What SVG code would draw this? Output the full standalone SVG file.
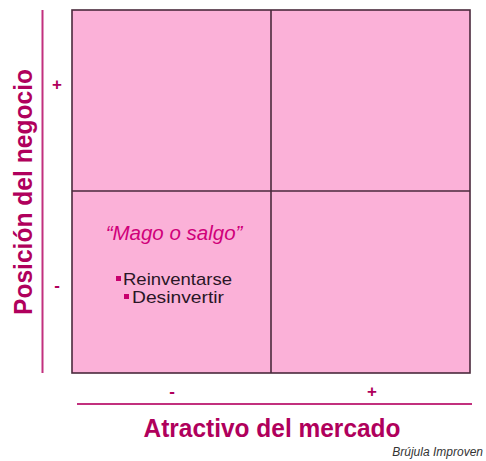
<svg xmlns="http://www.w3.org/2000/svg" width="486" height="461" viewBox="0 0 486 461">
<style>
.q{fill:#fbb1d8;stroke:none}
.grid{fill:none;stroke:#4a2a3c;stroke-width:1.6}
.axis{stroke:#c2307e;stroke-width:2;fill:none}
.lab{font-family:"Liberation Sans",Arial,sans-serif;font-weight:bold;fill:#b0005c}
.sign{font-family:"Liberation Sans",Arial,sans-serif;font-weight:bold;font-size:17px;fill:#b0005c;text-anchor:middle}
.title{font-family:"Liberation Sans",Arial,sans-serif;font-style:italic;font-size:20.5px;fill:#d0007a;text-anchor:middle}
.item{font-family:"Liberation Sans",Arial,sans-serif;font-size:17px;fill:#2a1626}
.bul{fill:#c8006e}
.src{font-family:"Liberation Sans",Arial,sans-serif;font-style:italic;font-size:12px;fill:#333333;text-anchor:end}
</style>
<g id="matrix">
<rect class="q" x="72" y="10" width="398" height="363"/>
</g>
<g id="connectors">
<rect class="grid" x="72" y="10" width="398" height="363"/>
<line class="grid" x1="271" y1="10" x2="271" y2="373"/>
<line class="grid" x1="72" y1="191" x2="470" y2="191"/>
<line class="axis" x1="42.5" y1="10" x2="42.5" y2="373"/>
<line class="axis" x1="77" y1="404" x2="472" y2="404"/>
</g>
<g id="y-axis">
<text class="lab" font-size="25" transform="translate(32,315) rotate(-90) scale(1,1.05)" textLength="246" lengthAdjust="spacingAndGlyphs">Posición del negocio</text>
<text class="sign" x="57" y="90">+</text>
<text class="sign" x="57" y="291">-</text>
</g>
<g id="x-axis">
<text class="lab" font-size="25" x="272" y="437" text-anchor="middle" textLength="257" lengthAdjust="spacingAndGlyphs">Atractivo del mercado</text>
<text class="sign" x="172" y="397">-</text>
<text class="sign" x="372" y="397">+</text>
</g>
<g id="quadrant-low-low">
<text class="title" x="174" y="240">“Mago o salgo”</text>
<rect class="bul" x="116" y="276" width="5" height="5"/>
<text class="item" x="123" y="285" textLength="109" lengthAdjust="spacingAndGlyphs">Reinventarse</text>
<rect class="bul" x="124" y="294" width="5" height="5"/>
<text class="item" x="132" y="303" textLength="92" lengthAdjust="spacingAndGlyphs">Desinvertir</text>
</g>
<g id="source">
<text class="src" x="483" y="456">Brújula Improven</text>
</g>
</svg>
